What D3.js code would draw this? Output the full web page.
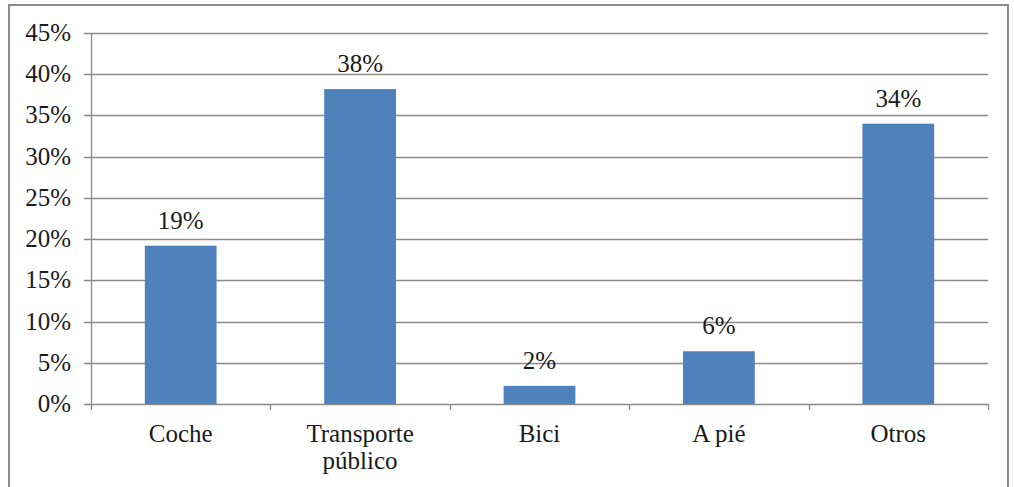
<!DOCTYPE html>
<html><head><meta charset="utf-8">
<script src="https://cdn.jsdelivr.net/npm/d3@7"></script>
<style>body{margin:0;background:#fff}svg{display:block}</style>
</head><body>
<script>
const categories = [["Coche"], ["Transporte", "público"], ["Bici"], ["A pié"], ["Otros"]];
const values = [0.192, 0.382, 0.022, 0.064, 0.340];
const valueLabels = ["19%", "38%", "2%", "6%", "34%"];
const yTicks = [0, 0.05, 0.10, 0.15, 0.20, 0.25, 0.30, 0.35, 0.40, 0.45];

const W = 1014, H = 487;
const m = {left: 91, right: 26, top: 33, bottom: 83};
const svg = d3.select("body").append("svg").attr("width", W).attr("height", H);
const FONT = "Liberation Serif";
const FS = "25px";

// outer frame
svg.append("rect").attr("x", 9).attr("y", 5).attr("width", 999).attr("height", 500)
  .attr("fill", "#fff").attr("stroke", "#8c8c8c").attr("stroke-width", 2);

const x = d3.scaleBand().domain(d3.range(categories.length)).range([m.left, W - m.right]).padding(0);
const y = d3.scaleLinear().domain([0, 0.45]).range([H - m.bottom, m.top]);

// gridlines
svg.append("g").selectAll("line").data(yTicks).join("line")
  .attr("x1", m.left - 7).attr("x2", W - m.right)
  .attr("y1", d => Math.round(y(d)) + 0.5).attr("y2", d => Math.round(y(d)) + 0.5)
  .attr("stroke", "#8a8a8a").attr("stroke-width", 1.3);

// y axis line
svg.append("line").attr("x1", m.left + 0.5).attr("x2", m.left + 0.5)
  .attr("y1", y(0.45)).attr("y2", y(0)).attr("stroke", "#8a8a8a").attr("stroke-width", 1.3);

// y tick labels
svg.append("g").selectAll("text").data(yTicks).join("text")
  .attr("x", m.left - 20).attr("y", d => y(d) + 8)
  .attr("text-anchor", "end").attr("fill", "#1a1a1a")
  .style("font-family", FONT).style("font-size", FS)
  .text(d => Math.round(d * 100) + "%");

// x tick marks
const xt = d3.range(categories.length + 1).map(i => i < categories.length ? x(i) : x(categories.length - 1) + x.bandwidth());
svg.append("g").selectAll("line").data(xt).join("line")
  .attr("x1", d => Math.round(d) + 0.5).attr("x2", d => Math.round(d) + 0.5)
  .attr("y1", y(0)).attr("y2", y(0) + 6).attr("stroke", "#8a8a8a").attr("stroke-width", 1.3);

// bars
const bw = x.bandwidth() * 0.4;
svg.append("g").selectAll("rect").data(values).join("rect")
  .attr("x", (d, i) => x(i) + (x.bandwidth() - bw) / 2)
  .attr("width", bw)
  .attr("y", d => y(d)).attr("height", d => y(0) - y(d))
  .attr("fill", "#4f81bd");

// value labels
svg.append("g").selectAll("text").data(values).join("text")
  .attr("x", (d, i) => x(i) + x.bandwidth() / 2)
  .attr("y", d => y(d) - 17)
  .attr("text-anchor", "middle").attr("fill", "#1a1a1a")
  .style("font-family", FONT).style("font-size", FS)
  .text((d, i) => valueLabels[i]);

// category labels
const cl = svg.append("g").selectAll("text").data(categories).join("text")
  .attr("x", (d, i) => x(i) + x.bandwidth() / 2)
  .attr("y", y(0) + 38)
  .attr("text-anchor", "middle").attr("fill", "#1a1a1a")
  .style("font-family", FONT).style("font-size", FS);
cl.selectAll("tspan").data(d => d).join("tspan")
  .attr("x", function() { return this.parentNode.getAttribute("x"); })
  .attr("dy", (d, j) => j === 0 ? 0 : 27)
  .text(d => d);
</script>
</body></html>
